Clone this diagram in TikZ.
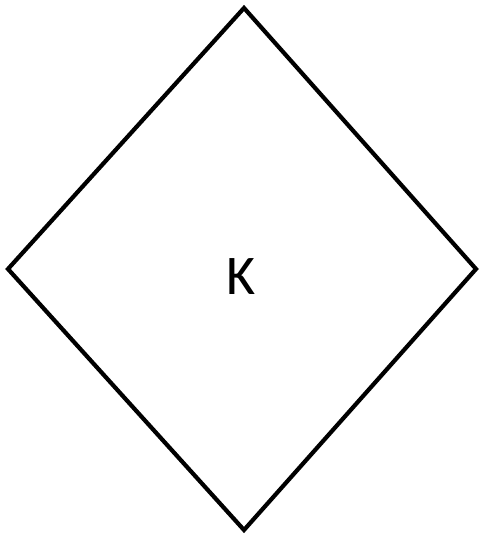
\documentclass[tikz,border=0pt]{standalone}
\usepackage{fontspec}
\setmainfont{Carlito}
\begin{document}
\begin{tikzpicture}[x=1pt,y=-1pt,
  shapeline/.style={draw=black,line width=4.2pt,line join=miter},
  lbl/.style={font=\fontsize{56}{62}\selectfont,inner sep=0pt}]
\useasboundingbox (0,0) rectangle (481,535);
\coordinate (t) at (244,8);
\coordinate (l) at (8,269);
\coordinate (r) at (476,269);
\coordinate (b) at (244,530);
\draw[shapeline] (t) -- (r) -- (b) -- (l) -- cycle;
\node[lbl] (k) at (241,277) {K};
\end{tikzpicture}
\end{document}
